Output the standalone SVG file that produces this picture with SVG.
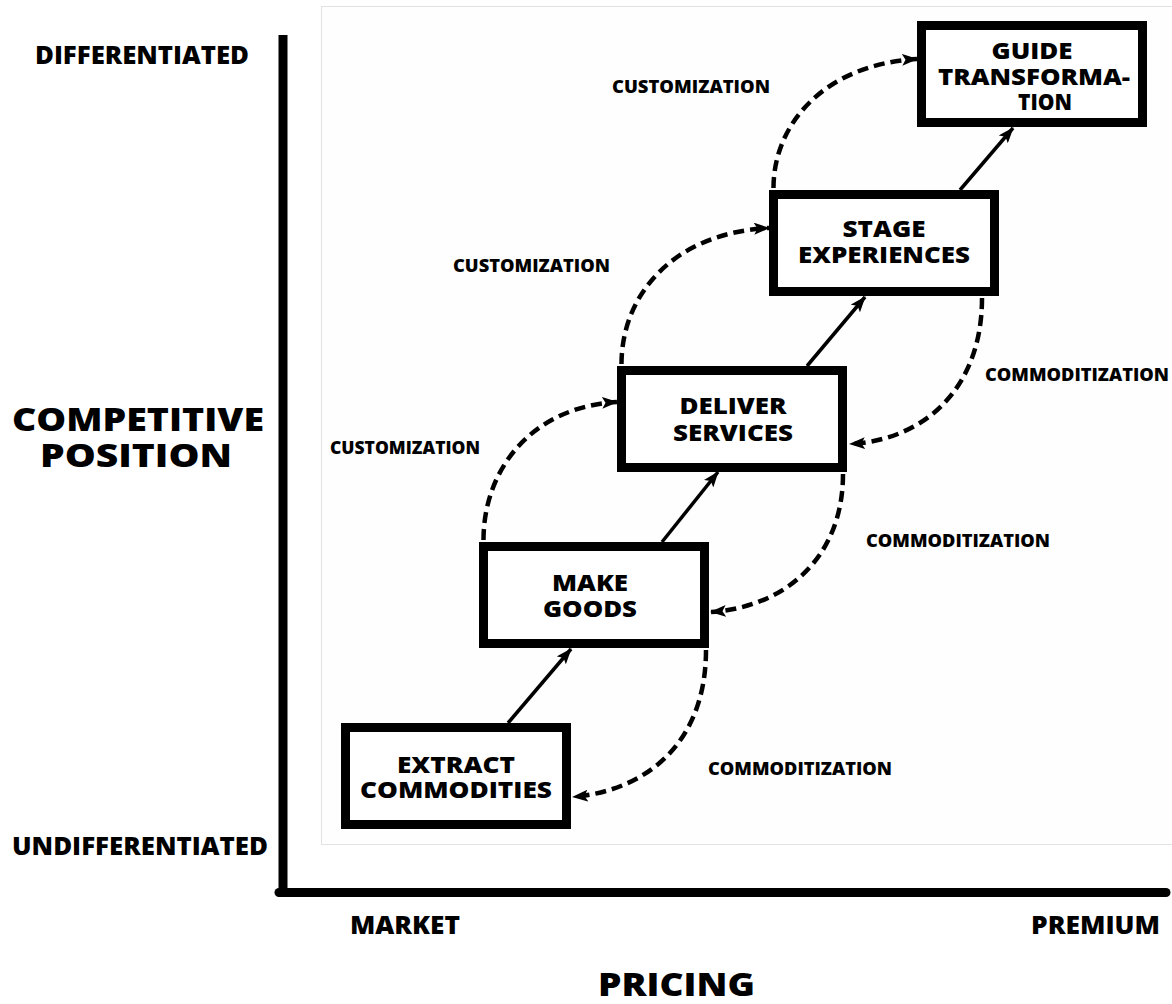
<svg xmlns="http://www.w3.org/2000/svg" width="1172" height="1004" viewBox="0 0 1172 1004">
<style>
text { font-family: "Open Sans", "DejaVu Sans", sans-serif; font-weight: 800; fill: #000; }
.bt { font-size: 23px; text-anchor: middle; }
.lbl { font-size: 18px; }
.ax { font-size: 24px; }
.big { font-size: 32px; }
.box { fill: #fff; stroke: #000; stroke-width: 9; }
.solid { fill: none; stroke: #000; stroke-width: 3.5; marker-end: url(#ah); }
.dash { fill: none; stroke: #000; stroke-width: 4.5; stroke-dasharray: 11 6; marker-end: url(#ah); }
</style>
<defs>
<marker id="ah" markerUnits="userSpaceOnUse" viewBox="0 0 16 12" refX="15" refY="6" markerWidth="16" markerHeight="12" orient="auto">
<path d="M0,0 L16,6 L0,12 L3.5,6 z" fill="#000"/>
</marker>
</defs>
<rect width="1172" height="1004" fill="#fff"/>
<rect x="321.5" y="6.5" width="900" height="838" fill="#fefefe" stroke="#e2e2e2" stroke-width="1"/>
<g id="axes">
<line x1="283" y1="35" x2="283" y2="897" stroke="#000" stroke-width="9"/>
<line x1="279" y1="892.5" x2="1166" y2="892.5" stroke="#000" stroke-width="9" stroke-linecap="round"/>
</g>
<g id="axis-labels">
<text class="ax" x="35" y="64" textLength="214" lengthAdjust="spacingAndGlyphs">DIFFERENTIATED</text>
<text class="ax" x="12" y="855" textLength="256" lengthAdjust="spacingAndGlyphs">UNDIFFERENTIATED</text>
<text class="big" x="12" y="431" textLength="252" lengthAdjust="spacingAndGlyphs">COMPETITIVE</text>
<text class="big" x="40" y="467" textLength="192" lengthAdjust="spacingAndGlyphs">POSITION</text>
<text class="ax" x="350" y="934" textLength="110" lengthAdjust="spacingAndGlyphs">MARKET</text>
<text class="ax" x="1031" y="934" textLength="129" lengthAdjust="spacingAndGlyphs">PREMIUM</text>
<text class="big" x="598" y="996" textLength="157" lengthAdjust="spacingAndGlyphs">PRICING</text>
</g>
<g id="connectors">
<line class="solid" x1="508" y1="723" x2="571" y2="649"/>
<line class="solid" x1="662" y1="542" x2="718" y2="472"/>
<line class="solid" x1="807" y1="366" x2="865" y2="297"/>
<line class="solid" x1="960" y1="190" x2="1013" y2="128"/>
<path class="dash" d="M483.5,540 C483.5,470 531,407 617,402"/>
<path class="dash" d="M621.5,364 C621.5,296 672,233 769,228"/>
<path class="dash" d="M773.5,188 C773.5,122 827,64 917,59"/>
<path class="dash" d="M706,650 C706,740 650,790 573,797"/>
<path class="dash" d="M843,474 C843,558 785,607 711,612"/>
<path class="dash" d="M982,298 C982,388 925,440 850,444"/>
</g>
<g id="connector-labels">
<text class="lbl" x="612" y="93" textLength="158" lengthAdjust="spacingAndGlyphs">CUSTOMIZATION</text>
<text class="lbl" x="453" y="272" textLength="157" lengthAdjust="spacingAndGlyphs">CUSTOMIZATION</text>
<text class="lbl" x="330" y="454" textLength="150" lengthAdjust="spacingAndGlyphs">CUSTOMIZATION</text>
<text class="lbl" x="985" y="381" textLength="184" lengthAdjust="spacingAndGlyphs">COMMODITIZATION</text>
<text class="lbl" x="866" y="547" textLength="184" lengthAdjust="spacingAndGlyphs">COMMODITIZATION</text>
<text class="lbl" x="708" y="775" textLength="184" lengthAdjust="spacingAndGlyphs">COMMODITIZATION</text>
</g>
<g id="node-guide">
<rect class="box" x="921.5" y="25.5" width="221" height="97"/>
<text class="bt" x="1032" y="59" textLength="81" lengthAdjust="spacingAndGlyphs">GUIDE</text>
<text class="bt" x="1034" y="85" textLength="192" lengthAdjust="spacingAndGlyphs">TRANSFORMA-</text>
<text class="bt" x="1045" y="110" textLength="54" lengthAdjust="spacingAndGlyphs">TION</text>
</g>
<g id="node-stage">
<rect class="box" x="773.5" y="194.5" width="221" height="97"/>
<text class="bt" x="884" y="237" textLength="83" lengthAdjust="spacingAndGlyphs">STAGE</text>
<text class="bt" x="884" y="263" textLength="172" lengthAdjust="spacingAndGlyphs">EXPERIENCES</text>
</g>
<g id="node-deliver">
<rect class="box" x="621.5" y="370.5" width="221" height="97"/>
<text class="bt" x="733" y="414" textLength="107" lengthAdjust="spacingAndGlyphs">DELIVER</text>
<text class="bt" x="733" y="441" textLength="120" lengthAdjust="spacingAndGlyphs">SERVICES</text>
</g>
<g id="node-make">
<rect class="box" x="483.5" y="546.5" width="221" height="97"/>
<text class="bt" x="590" y="591" textLength="76" lengthAdjust="spacingAndGlyphs">MAKE</text>
<text class="bt" x="590" y="617" textLength="94" lengthAdjust="spacingAndGlyphs">GOODS</text>
</g>
<g id="node-extract">
<rect class="box" x="345.5" y="727.5" width="221" height="97"/>
<text class="bt" x="456" y="773" textLength="118" lengthAdjust="spacingAndGlyphs">EXTRACT</text>
<text class="bt" x="456" y="798" textLength="192" lengthAdjust="spacingAndGlyphs">COMMODITIES</text>
</g>
</svg>
